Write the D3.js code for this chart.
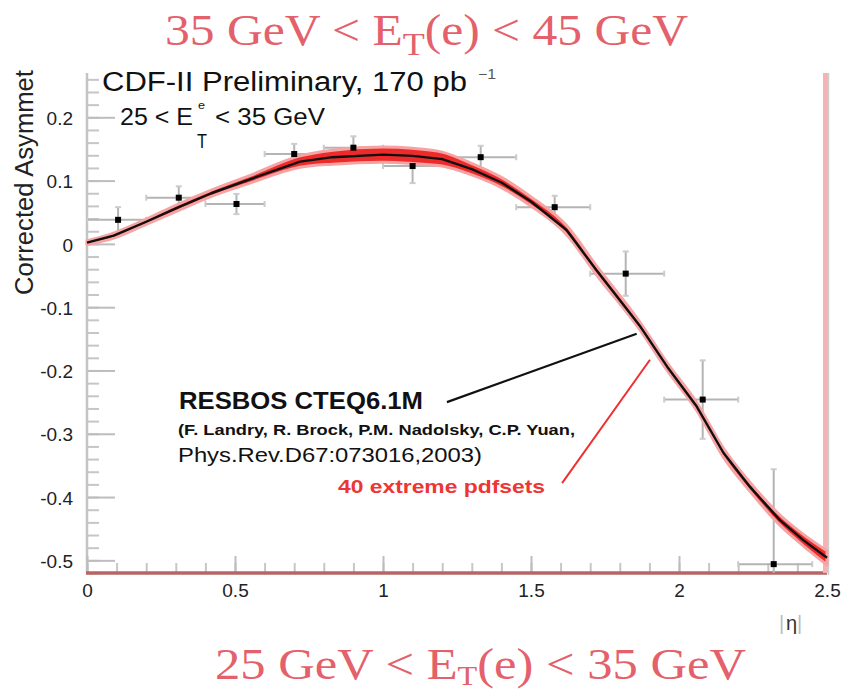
<!DOCTYPE html>
<html>
<head>
<meta charset="utf-8">
<script src="https://cdn.jsdelivr.net/npm/d3@7"></script>
<style>
  body { margin: 0; background: #fff; }
  svg { display: block; }
</style>
</head>
<body>
<div id="chart"></div>
<script>
// measured bins (|eta|) and corrected asymmetry
const binLo = [0, 0.2, 0.4, 0.6, 0.8, 1.0, 1.22, 1.45, 1.7, 1.95, 2.2];
const binHi = [0.2, 0.4, 0.6, 0.8, 1.0, 1.22, 1.45, 1.7, 1.95, 2.2, 2.45];
const etaPts = [0.105, 0.31, 0.505, 0.70, 0.90, 1.10, 1.33, 1.58, 1.82, 2.08, 2.32];
const asym = [0.038, 0.073, 0.063, 0.142, 0.152, 0.123, 0.137, 0.058, -0.047, -0.246, -0.506];
const asymErr = [0.02, 0.018, 0.016, 0.016, 0.018, 0.027, 0.018, 0.018, 0.035, 0.062, 0.15];

// RESBOS CTEQ6.1M prediction and the envelope of the 40 extreme pdf sets
const etaCurve = [0, 0.09, 0.2, 0.3, 0.42, 0.55, 0.72, 0.83, 1.0, 1.1, 1.2, 1.3, 1.4, 1.5, 1.62, 1.72, 1.87, 1.96, 2.06, 2.15, 2.24, 2.34, 2.42, 2.5];
const resbos = [0.002, 0.013, 0.035, 0.056, 0.080, 0.102, 0.130, 0.137, 0.141, 0.139, 0.134, 0.118, 0.097, 0.067, 0.022, -0.041, -0.131, -0.194, -0.257, -0.330, -0.384, -0.436, -0.468, -0.496];
const pdfHi = [0.005, 0.017, 0.039, 0.061, 0.085, 0.108, 0.139, 0.148, 0.153, 0.151, 0.145, 0.127, 0.105, 0.074, 0.029, -0.034, -0.125, -0.188, -0.251, -0.323, -0.377, -0.428, -0.459, -0.485];
const pdfLo = [-0.001, 0.009, 0.031, 0.051, 0.075, 0.096, 0.121, 0.126, 0.129, 0.127, 0.123, 0.109, 0.089, 0.060, 0.015, -0.048, -0.137, -0.200, -0.263, -0.337, -0.391, -0.444, -0.477, -0.507];

// axis ticks
const xMajor = [0, 0.5, 1, 1.5, 2, 2.5];
const xLabels = ["0", "0.5", "1", "1.5", "2", "2.5"];
const yMajor = [-0.5, -0.4, -0.3, -0.2, -0.1, 0, 0.1, 0.2];
const yLabels = ["-0.5", "-0.4", "-0.3", "-0.2", "-0.1", "0", "0.1", "0.2"];

const width = 841, height = 690;
const sans = "'Liberation Sans', Arial, Helvetica, sans-serif";
const serif = "'Liberation Serif', 'Times New Roman', serif";
const pink = "#e4606a";

const svg = d3.select("#chart").append("svg")
    .attr("width", width)
    .attr("height", height);

svg.append("rect").attr("width", width).attr("height", height).attr("fill", "#fff");

const x = d3.scaleLinear().domain([0, 2.5]).range([87, 827]);
const y = d3.scaleLinear().domain([-0.52, 0.27]).range([573, 73]);

svg.append("clipPath").attr("id", "plot")
    .append("rect")
    .attr("x", x(0)).attr("y", y(0.27))
    .attr("width", x(2.5) - x(0)).attr("height", y(-0.52) - y(0.27));

// small helper for text squeezed to a measured length
function label(parent, s, px, py, size, len, opts = {}) {
    const t = parent.append("text")
        .attr("x", px).attr("y", py)
        .attr("font-family", opts.family || sans)
        .attr("font-size", size)
        .attr("font-weight", opts.weight || "normal")
        .attr("fill", opts.fill || "#111")
        .text(s);
    if (len) t.attr("textLength", len).attr("lengthAdjust", "spacingAndGlyphs");
    return t;
}

// y axis: minor + major ticks pointing inwards
svg.append("g")
    .attr("transform", `translate(${x(0)},0)`)
    .call(d3.axisLeft(y).ticks(40).tickSize(-12).tickFormat(""))
    .call(g => g.select(".domain").remove())
    .call(g => g.selectAll("line").attr("stroke", "#c6c6c6").attr("stroke-width", 2));

svg.append("g")
    .attr("transform", `translate(${x(0)},0)`)
    .call(d3.axisLeft(y).tickValues(yMajor).tickSize(-28).tickPadding(14)
        .tickFormat((d, i) => yLabels[i]))
    .call(g => g.select(".domain").remove())
    .call(g => g.selectAll("line").attr("stroke", "#bdbdbd").attr("stroke-width", 2))
    .call(g => g.selectAll("text")
        .attr("font-family", sans).attr("font-size", 19)
        .attr("fill", "#222").attr("dy", "0.38em"));

svg.append("line")
    .attr("x1", x(0)).attr("x2", x(0))
    .attr("y1", y(0.27)).attr("y2", y(-0.52))
    .attr("stroke", "#c4c4c4").attr("stroke-width", 2.5);

// x axis
svg.append("g")
    .attr("transform", `translate(0,${y(-0.52)})`)
    .call(d3.axisBottom(x).ticks(25).tickSize(-10).tickFormat(""))
    .call(g => g.select(".domain").remove())
    .call(g => g.selectAll("line").attr("stroke", "#c6c6c6").attr("stroke-width", 2));

svg.append("g")
    .attr("transform", `translate(0,${y(-0.52)})`)
    .call(d3.axisBottom(x).tickValues(xMajor).tickSize(-17)
        .tickFormat((d, i) => xLabels[i]))
    .call(g => g.select(".domain").remove())
    .call(g => g.selectAll("line").attr("stroke", "#bdbdbd").attr("stroke-width", 2))
    .call(g => g.selectAll("text")
        .attr("font-family", sans).attr("font-size", 19)
        .attr("fill", "#222").attr("y", 24).attr("dy", 0));

svg.append("line")
    .attr("x1", x(0) - 1).attr("x2", x(2.5))
    .attr("y1", y(-0.52)).attr("y2", y(-0.52))
    .attr("stroke", "#b96464").attr("stroke-width", 3.5);

// right frame edge (pink highlight)
svg.append("rect")
    .attr("x", x(2.5) - 4).attr("y", y(0.27))
    .attr("width", 5).attr("height", y(-0.52) - y(0.27))
    .attr("fill", "#f5b3b3");
svg.append("line")
    .attr("x1", x(2.5) + 1.5).attr("x2", x(2.5) + 1.5)
    .attr("y1", y(0.27)).attr("y2", y(-0.52) + 2)
    .attr("stroke", "#cfcfcf").attr("stroke-width", 1.5);

// data error bars
const pts = etaPts.map((e, i) => ({ e, a: asym[i], err: asymErr[i], lo: binLo[i], hi: binHi[i] }));
const bars = svg.append("g").attr("clip-path", "url(#plot)")
    .attr("stroke", "#b4b4b4").attr("stroke-width", 2);

bars.selectAll("line.h").data(pts).enter().append("line")
    .attr("x1", d => x(d.lo)).attr("x2", d => x(d.hi))
    .attr("y1", d => y(d.a)).attr("y2", d => y(d.a));
bars.selectAll("line.v").data(pts).enter().append("line")
    .attr("x1", d => x(d.e)).attr("x2", d => x(d.e))
    .attr("y1", d => y(d.a + d.err)).attr("y2", d => y(d.a - d.err));
// little end marks
bars.selectAll("line.hc").data(pts.flatMap(d => [[d.lo, d.a], [d.hi, d.a]])).enter().append("line")
    .attr("stroke", "#cccccc")
    .attr("x1", d => x(d[0])).attr("x2", d => x(d[0]))
    .attr("y1", d => y(d[1]) - 3).attr("y2", d => y(d[1]) + 3);
bars.selectAll("line.vc").data(pts.flatMap(d => [[d.e, d.a + d.err], [d.e, d.a - d.err]])).enter().append("line")
    .attr("stroke", "#cccccc")
    .attr("x1", d => x(d[0]) - 3).attr("x2", d => x(d[0]) + 3)
    .attr("y1", d => y(d[1])).attr("y2", d => y(d[1]));

// pdf band
const band = etaCurve.map((e, i) => ({ e, hi: pdfHi[i], lo: pdfLo[i] }));
const area = d3.area().x(d => x(d.e)).y0(d => y(d.lo)).y1(d => y(d.hi)).curve(d3.curveMonotoneX);
svg.append("path").datum(band)
    .attr("d", area)
    .attr("fill", "#ee2b2b")
    .attr("stroke", "#f6a3a3").attr("stroke-width", 3)
    .attr("stroke-linejoin", "round");

// RESBOS central curve
const line = d3.line().x(d => x(d.e)).y(d => y(d.a));
svg.append("path")
    .datum(etaCurve.map((e, i) => ({ e, a: resbos[i] })))
    .attr("d", line)
    .attr("fill", "none")
    .attr("stroke", "#111")
    .attr("stroke-width", 2.4)
    .attr("stroke-linejoin", "round");

// markers
svg.append("g").selectAll("rect").data(pts).enter().append("rect")
    .attr("clip-path", "url(#plot)")
    .attr("x", d => x(d.e) - 3).attr("y", d => y(d.a) - 3)
    .attr("width", 6).attr("height", 6)
    .attr("fill", "#000");

// annotation arrows
svg.append("line")
    .attr("x1", x(1.216)).attr("y1", y(-0.25))
    .attr("x2", x(1.857)).attr("y2", y(-0.142))
    .attr("stroke", "#111").attr("stroke-width", 2.2);
svg.append("line")
    .attr("x1", x(1.605)).attr("y1", y(-0.378))
    .attr("x2", x(1.902)).attr("y2", y(-0.183))
    .attr("stroke", "#ee3030").attr("stroke-width", 2);

// texts inside the pad
label(svg, "CDF-II Preliminary, 170 pb", 102, 91, 27, 365);
label(svg, "\u22121", 478, 79, 14, 18, { fill: "#555" });
label(svg, "25 < E", 120, 125, 23, 73);
label(svg, "e", 198, 109, 11, 7);
label(svg, "T", 197, 148, 21, 10);
label(svg, "< 35 GeV", 215, 125, 23, 110);

label(svg, "RESBOS CTEQ6.1M", 179, 409, 23, 244, { weight: "bold" });
label(svg, "(F. Landry, R. Brock, P.M. Nadolsky, C.P. Yuan,", 178, 435, 15, 397, { weight: "bold" });
label(svg, "Phys.Rev.D67:073016,2003)", 178, 462, 20, 304);
label(svg, "40 extreme pdfsets", 338, 493, 19, 207, { weight: "bold", fill: "#ee3535" });

// axis titles
label(svg, "Corrected Asymmet", 0, 0, 25, 225, { fill: "#222" })
    .attr("transform", "translate(33,295) rotate(-90)");
label(svg, "|", 779, 630, 20, null, { fill: "#bbb" });
label(svg, "\u03b7", 786, 630, 20, null, { fill: "#333" });
label(svg, "|", 797, 630, 20, null, { fill: "#bbb" });

// overlay titles
const titleTop = svg.append("text")
    .attr("x", 165).attr("y", 45)
    .attr("font-family", serif).attr("font-size", 44).attr("fill", pink)
    .attr("textLength", 523).attr("lengthAdjust", "spacingAndGlyphs");
titleTop.append("tspan").text("35 GeV < E");
titleTop.append("tspan").attr("font-size", 32).attr("dy", 10).text("T");
titleTop.append("tspan").attr("dy", -10).text("(e) < 45 GeV");

const titleBottom = svg.append("text")
    .attr("x", 215).attr("y", 679)
    .attr("font-family", serif).attr("font-size", 44).attr("fill", pink)
    .attr("textLength", 531).attr("lengthAdjust", "spacingAndGlyphs");
titleBottom.append("tspan").text("25 GeV < E");
titleBottom.append("tspan").attr("font-size", 28).attr("dy", 6).text("T");
titleBottom.append("tspan").attr("dy", -6).text("(e) < 35 GeV");
</script>
</body>
</html>
